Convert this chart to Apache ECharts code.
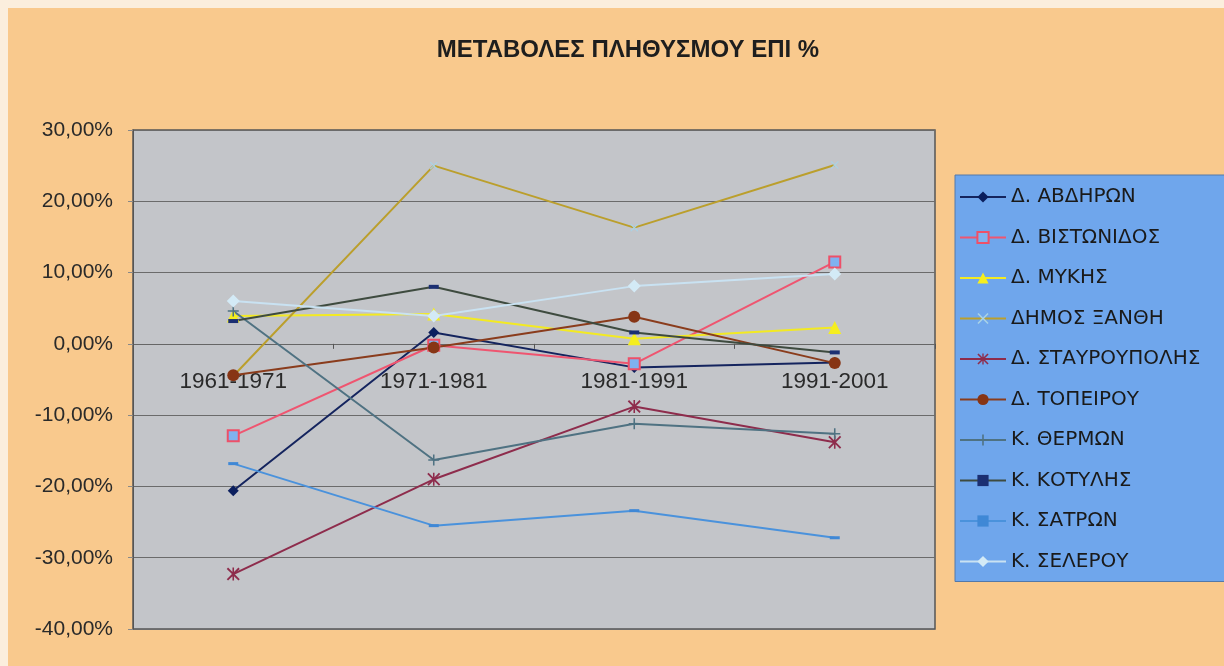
<!DOCTYPE html>
<html>
<head>
<meta charset="utf-8">
<script src="https://cdn.jsdelivr.net/npm/echarts@6/dist/echarts.min.js"></script>
<style>
  html, body { margin: 0; padding: 0; background: #fbeedd; }
  /* chart sits a few px in from the top-left like the scan */
  #chart { position: absolute; left: 8px; top: 8px; width: 1216px; height: 658px; }
</style>
</head>
<body>
<div id="chart"></div>
<script>
  // periods on the category axis
  var periods = ['1961-1971', '1971-1981', '1981-1991', '1991-2001'];

  // population change in %
  var abdiron      = [-20.6,  1.6, -3.3, -2.6];
  var vistonidos   = [-12.9, -0.2, -2.8, 11.5];
  var mykis        = [  3.9,  4.2,  0.7,  2.3];
  var xanthi       = [ -4.5, 25.0, 16.3, 25.1];
  var stavroupolis = [-32.3,-19.0, -8.8,-13.8];
  var topeirou     = [ -4.4, -0.5,  3.8, -2.7];
  var thermon      = [  4.6,-16.3,-11.2,-12.6];
  var kotylis      = [  3.2,  8.0,  1.6, -1.2];
  var satron       = [-16.8,-25.5,-23.4,-27.2];
  var selerou      = [  6.0,  3.9,  8.1,  9.8];

  var seriesNames = [
    'Δ. ΑΒΔΗΡΩΝ', 'Δ. ΒΙΣΤΩΝΙΔΟΣ', 'Δ. ΜΥΚΗΣ', 'ΔΗΜΟΣ ΞΑΝΘΗ', 'Δ. ΣΤΑΥΡΟΥΠΟΛΗΣ',
    'Δ. ΤΟΠΕΙΡΟΥ', 'Κ. ΘΕΡΜΩΝ', 'Κ. ΚΟΤΥΛΗΣ', 'Κ. ΣΑΤΡΩΝ', 'Κ. ΣΕΛΕΡΟΥ'
  ];

  // excel-ish marker shapes
  var xMark = 'path://M0,1L1,0L5,4L9,0L10,1L6,5L10,9L9,10L5,6L1,10L0,9L4,5Z';
  var plusMark = 'path://M4.3,0H5.7V4.3H10V5.7H5.7V10H4.3V5.7H0V4.3H4.3Z';
  var starMark = 'path://M4.4,0H5.6V10H4.4Z M0,1L1,0L5,4L9,0L10,1L6,5L10,9L9,10L5,6L1,10L0,9L4,5Z';

  function line(name, data, lineColor, symbol, size, itemStyle) {
    return {
      name: name,
      type: 'line',
      data: data,
      symbol: symbol,
      symbolSize: size,
      showSymbol: true,
      lineStyle: { color: lineColor, width: 2 },
      itemStyle: itemStyle,
      emphasis: { disabled: true }
    };
  }

  var yMin = -40, yMax = 30;
  var gridTop = 122, gridBottom = 37, chartH = 658;
  // the category axis crosses at 0, like excel does
  var plotH = chartH - gridTop - gridBottom;
  var zeroFromBottom = plotH * (0 - yMin) / (yMax - yMin);

  var chart = echarts.init(document.getElementById('chart'));

  chart.setOption({
    backgroundColor: '#f9c98d',
    animation: false,
    textStyle: { fontFamily: 'Liberation Sans, Arial, sans-serif' },
    title: {
      text: 'ΜΕΤΑΒΟΛΕΣ ΠΛΗΘΥΣΜΟΥ ΕΠΙ %',
      left: 615,
      top: 25,
      textAlign: 'center',
      textStyle: { fontSize: 24, fontWeight: 'bold', color: '#1e1e1e' }
    },
    legend: {
      orient: 'vertical',
      left: 947,
      top: 167,
      padding: [12, 80, 10, 4],
      itemWidth: 46,
      itemHeight: 14,
      itemGap: 20.5,
      backgroundColor: '#6fa6ec',
      borderColor: '#5478a8',
      borderWidth: 1,
      textStyle: { fontSize: 20, lineHeight: 20, color: '#1a1a1a', fontFamily: 'DejaVu Sans, sans-serif' },
      data: seriesNames
    },
    grid: {
      left: 125,
      top: gridTop,
      right: 289,
      bottom: gridBottom,
      outerBoundsMode: 'none',
      containLabel: false,
      show: true,
      backgroundColor: '#c3c5c9',
      borderColor: '#555',
      borderWidth: 1.5
    },
    xAxis: {
      type: 'category',
      data: periods,
      boundaryGap: true,
      position: 'bottom',
      offset: -zeroFromBottom,
      axisLine: { onZero: false, lineStyle: { color: '#666', width: 1 } },
      axisTick: { show: true, length: 5, lineStyle: { color: '#555' } },
      axisLabel: { fontSize: 22.5, margin: 26, color: '#2a2a2a' }
    },
    yAxis: {
      type: 'value',
      min: yMin,
      max: yMax,
      interval: 10,
      axisLine: { show: true, lineStyle: { color: '#555' } },
      axisTick: { show: true, length: 5, lineStyle: { color: '#888' } },
      splitLine: { lineStyle: { color: '#6b6b6b', width: 1 } },
      axisLabel: {
        fontSize: 21,
        margin: 20,
        color: '#2a2a2a',
        formatter: function (v) { return v.toFixed(2).replace('.', ',') + '%'; }
      }
    },
    series: [
      line(seriesNames[0], abdiron, '#14245e', 'diamond', 11, { color: '#0b1f5e' }),
      line(seriesNames[1], vistonidos, '#ef5570', 'rect', 11,
           { color: '#7fb2f0', borderColor: '#ee5068', borderWidth: 2 }),
      line(seriesNames[2], mykis, '#f3ea22', 'triangle', 13, { color: '#f5ee1e' }),
      line(seriesNames[3], xanthi, '#bb9f2c', xMark, 8, { color: '#a9d3e6' }),
      line(seriesNames[4], stavroupolis, '#8e2c4c', starMark, 13, { color: '#8e2c4c' }),
      line(seriesNames[5], topeirou, '#8a3c1c', 'circle', 12, { color: '#873515' }),
      line(seriesNames[6], thermon, '#4f7282', plusMark, 11, { color: '#4f7282' }),
      line(seriesNames[7], kotylis, '#3e4b3f', 'rect', [10, 4], { color: '#1b2f72' }),
      line(seriesNames[8], satron, '#4a92dc', 'rect', [10, 3], { color: '#3f88d6' }),
      line(seriesNames[9], selerou, '#c9e2f2', 'diamond', 13, { color: '#d3eaf6' })
    ]
  });
</script>
</body>
</html>
